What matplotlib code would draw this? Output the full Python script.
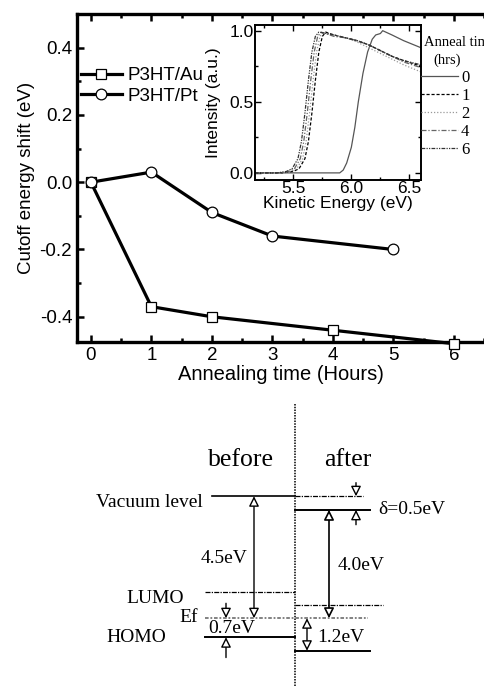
import matplotlib
matplotlib.use('Agg')
import matplotlib.pyplot as plt
from matplotlib.patches import FancyArrowPatch
from matplotlib.ticker import MultipleLocator

# Dados do gráfico principal (deslocamento da energia de corte)
tempo_au = [0, 1, 2, 4, 6]
shift_au = [0.0, -0.37, -0.40, -0.44, -0.48]
tempo_pt = [0, 1, 2, 3, 5]
shift_pt = [0.0, 0.03, -0.09, -0.16, -0.20]

# Dados do inset (espectros normalizados)
ke_0 = [5.17, 5.6, 5.9, 5.93, 5.96, 6.0, 6.03, 6.06, 6.1, 6.14, 6.18, 6.21, 6.25, 6.27, 6.35, 6.45, 6.6]
int_0 = [0.0, 0.0, 0.0, 0.02, 0.07, 0.18, 0.32, 0.5, 0.7, 0.85, 0.94, 0.97, 0.98, 1.0, 0.97, 0.93, 0.88]
ke_1 = [5.17, 5.4, 5.5, 5.55, 5.6, 5.63, 5.66, 5.69, 5.72, 5.75, 5.78, 5.85, 5.95, 6.05, 6.15, 6.25, 6.35, 6.45, 6.6]
int_1 = [0.0, 0.0, 0.01, 0.03, 0.1, 0.22, 0.42, 0.65, 0.85, 0.96, 0.99, 0.97, 0.95, 0.93, 0.9, 0.86, 0.82, 0.79, 0.75]
ke_2 = [5.17, 5.4, 5.48, 5.53, 5.58, 5.61, 5.64, 5.67, 5.7, 5.73, 5.76, 5.85, 5.95, 6.05, 6.15, 6.25, 6.35, 6.45, 6.6]
int_2 = [0.0, 0.0, 0.01, 0.03, 0.1, 0.22, 0.42, 0.65, 0.85, 0.96, 0.99, 0.97, 0.95, 0.92, 0.88, 0.84, 0.8, 0.76, 0.71]
ke_4 = [5.17, 5.38, 5.46, 5.51, 5.56, 5.59, 5.62, 5.65, 5.68, 5.71, 5.74, 5.85, 5.95, 6.05, 6.15, 6.25, 6.35, 6.45, 6.6]
int_4 = [0.0, 0.0, 0.01, 0.03, 0.1, 0.22, 0.42, 0.65, 0.85, 0.96, 0.99, 0.96, 0.95, 0.93, 0.9, 0.86, 0.82, 0.78, 0.74]
ke_6 = [5.17, 5.36, 5.44, 5.49, 5.54, 5.57, 5.6, 5.63, 5.66, 5.69, 5.72, 5.85, 5.95, 6.05, 6.15, 6.25, 6.35, 6.45, 6.6]
int_6 = [0.0, 0.0, 0.01, 0.03, 0.1, 0.22, 0.42, 0.65, 0.85, 0.96, 0.99, 0.97, 0.95, 0.93, 0.9, 0.86, 0.82, 0.79, 0.76]
rotulos_inset = ['0', '1', '2', '4', '6']

# Níveis de energia do diagrama (eV, relativo ao vácuo antes)
vacuo_antes = 0.0
vacuo_depois = -0.5
fermi = -4.5
lumo_antes = -3.55
lumo_depois = -4.0
homo_antes = -5.2
homo_depois = -5.7

plt.rcParams['font.family'] = ['Liberation Sans', 'DejaVu Sans']
plt.rcParams['axes.unicode_minus'] = False
serif = ['Liberation Serif', 'DejaVu Serif']

fig = plt.figure(figsize=(4.84, 6.86), dpi=100)

# ---------------- gráfico principal ----------------
ax = fig.add_axes([77/484, 1-342/686, 1-77/484, 328/686])
ax.plot(tempo_au, shift_au, color='black', lw=2.3, marker='s', ms=6.7,
        mfc='white', mec='black', mew=0.9, label='P3HT/Au', clip_on=False, zorder=3)
ax.plot(tempo_pt, shift_pt, color='black', lw=2.3, marker='o', ms=7.7,
        mfc='white', mec='black', mew=0.9, label='P3HT/Pt', clip_on=False, zorder=3)
ax.set_xlim(-0.23, 6.5)
ax.set_ylim(-0.475, 0.5)
ax.xaxis.set_major_locator(MultipleLocator(1))
ax.xaxis.set_minor_locator(MultipleLocator(0.5))
ax.yaxis.set_major_locator(MultipleLocator(0.2))
ax.yaxis.set_minor_locator(MultipleLocator(0.1))
ax.tick_params(which='both', direction='in', top=True, labelsize=13.5, width=1.8)
ax.tick_params(which='major', length=5)
ax.tick_params(which='minor', length=3)
ax.spines['right'].set_visible(False)
for s in ['left', 'top', 'bottom']:
    ax.spines[s].set_linewidth(2.4)
ax.set_xlabel('Annealing time (Hours)', fontsize=14.5, labelpad=1)
ax.set_ylabel('Cutoff energy shift (eV)', fontsize=13.5, labelpad=3)
ax.legend(loc='upper left', bbox_to_anchor=(0.0, 0.85), frameon=False,
          fontsize=13.5, borderaxespad=0, borderpad=0.2, handlelength=2.2,
          handletextpad=0.3, labelspacing=0.2)

# ---------------- inset ----------------
axi = fig.add_axes([255/484, 1-180/686, 166/484, 155/686])
axi.plot(ke_0, int_0, color='#555555', lw=0.9, ls='-', label=rotulos_inset[0])
axi.plot(ke_1, int_1, color='black', lw=0.9, ls=(0, (2.5, 1.5)), label=rotulos_inset[1])
axi.plot(ke_2, int_2, color='#999999', lw=0.9, ls=(0, (1, 1.5)), label=rotulos_inset[2])
axi.plot(ke_4, int_4, color='#666666', lw=0.9, ls=(0, (4, 1.5, 1, 1.5)), label=rotulos_inset[3])
axi.plot(ke_6, int_6, color='#333333', lw=0.9, ls=(0, (3, 1, 1, 1, 1, 1)), label=rotulos_inset[4])
axi.set_xlim(5.17, 6.6)
axi.set_ylim(-0.05, 1.04)
axi.xaxis.set_major_locator(MultipleLocator(0.5))
axi.xaxis.set_minor_locator(MultipleLocator(0.25))
axi.yaxis.set_major_locator(MultipleLocator(0.5))
axi.yaxis.set_minor_locator(MultipleLocator(0.25))
axi.tick_params(which='both', direction='in', top=True, right=True,
                labelsize=12.5, width=1.0, pad=1)
axi.tick_params(which='major', length=4)
axi.tick_params(which='minor', length=2.5)
for s in axi.spines.values():
    s.set_linewidth(1.4)
axi.set_xlabel('Kinetic Energy (eV)', fontsize=12.5, labelpad=0)
axi.set_ylabel('Intensity (a.u.)', fontsize=12.5, labelpad=6)
axi.text(1.02, 0.89, 'Anneal time', transform=axi.transAxes, fontsize=10.5,
         family=serif, ha='left', va='center', clip_on=False)
axi.text(1.16, 0.77, '(hrs)', transform=axi.transAxes, fontsize=10.5,
         family=serif, ha='center', va='center', clip_on=False)
axi.legend(loc='upper left', bbox_to_anchor=(1.0, 0.71), frameon=False,
           prop={'family': serif, 'size': 12}, borderaxespad=0, borderpad=0,
           handlelength=2.2, handletextpad=0.2, labelspacing=0.12)

# ---------------- diagrama de níveis ----------------
axd = fig.add_axes([0, 0, 1, 286/686])
axd.set_xlim(0, 484)
axd.set_ylim(-7.0, 3.55)
axd.axis('off')

axd.plot([295, 295], [3.4, -7.0], color='black', lw=1.1, ls=(0, (1, 0.8)))
axd.plot([212, 295], [vacuo_antes, vacuo_antes], color='black', lw=1.2)
axd.plot([295, 363], [vacuo_antes, vacuo_antes], color='black', lw=0.9, ls=(0, (4, 1, 1, 1)))
axd.plot([295, 370], [vacuo_depois, vacuo_depois], color='black', lw=1.4)
axd.plot([205, 295], [lumo_antes, lumo_antes], color='black', lw=0.9, ls=(0, (4, 1, 1, 1)))
axd.plot([295, 383], [lumo_depois, lumo_depois], color='black', lw=0.9, ls=(0, (4, 1, 1, 1)))
axd.plot([205, 368], [fermi, fermi], color='#777777', lw=1.3, ls=(0, (2, 1, 1, 1)))
axd.plot([205, 295], [homo_antes, homo_antes], color='black', lw=1.4)
axd.plot([295, 370], [homo_depois, homo_depois], color='black', lw=1.4)


def seta(x, y0, y1, estilo='-|>', lw=1.0):
    axd.add_patch(FancyArrowPatch((x, y0), (x, y1), arrowstyle=estilo,
                                  mutation_scale=15, lw=lw, fc='white',
                                  ec='black', shrinkA=0, shrinkB=0))


seta(254, vacuo_antes, fermi, '<|-|>')
seta(329, vacuo_depois, fermi, '<|-|>', lw=1.2)
seta(307, fermi, homo_depois, '<|-|>')
seta(356, vacuo_antes + 0.5, vacuo_antes)
seta(356, vacuo_depois - 0.55, vacuo_depois)
seta(226, fermi + 0.55, fermi)
seta(226, homo_antes - 0.75, homo_antes)

fs = 14
axd.text(241, 1.33, 'before', fontsize=18.5, family=serif, ha='center', va='center')
axd.text(348, 1.33, 'after', fontsize=18.5, family=serif, ha='center', va='center')
axd.text(203, -0.22, 'Vacuum level', fontsize=fs, family=serif, ha='right', va='center')
axd.text(155, -3.76, 'LUMO', fontsize=fs, family=serif, ha='center', va='center')
axd.text(198, -4.46, 'Ef', fontsize=fs, family=serif, ha='right', va='center')
axd.text(136, -5.2, 'HOMO', fontsize=fs, family=serif, ha='center', va='center')
axd.text(224, -2.29, '4.5eV', fontsize=fs, family=serif, ha='center', va='center')
axd.text(361, -2.55, '4.0eV', fontsize=fs, family=serif, ha='center', va='center')
axd.text(378, -0.48, 'δ=0.5eV', fontsize=fs, family=serif, ha='left', va='center')
axd.text(208, -4.87, '0.7eV', fontsize=fs, family=serif, ha='left', va='center')
axd.text(317, -5.2, '1.2eV', fontsize=fs, family=serif, ha='left', va='center')

fig.savefig('out.png', dpi=100)
